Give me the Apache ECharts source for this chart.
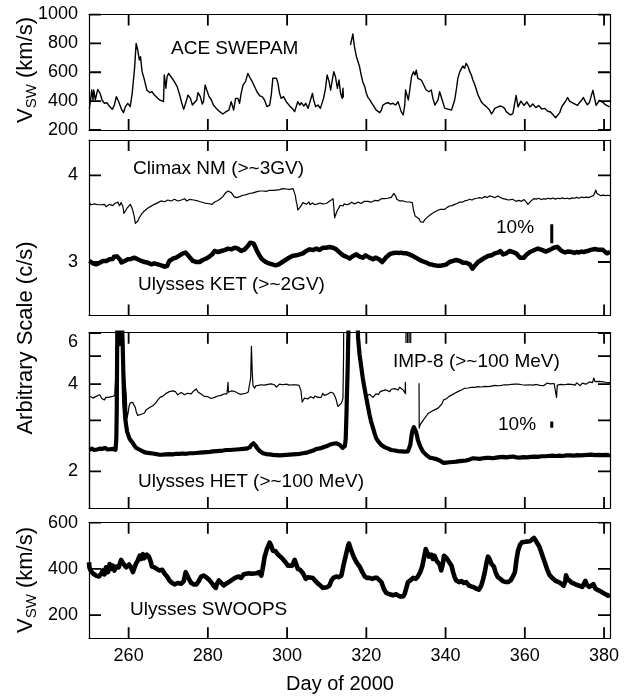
<!DOCTYPE html>
<html><head><meta charset="utf-8">
<script src="https://cdn.jsdelivr.net/npm/echarts@6/dist/echarts.min.js"></script>
<style>html,body{margin:0;padding:0;background:#fff}#c{width:625px;height:696px}</style>
</head><body><div id="c"></div>
<script>
// ---- tick values / labels ----
const dayTicks = [260, 280, 300, 320, 340, 360, 380];
const aceTicks = [200, 400, 600, 800, 1000];
const cosmicTicks = [3, 4];
const protonTicks = [2, 3, 4, 5, 6];
const protonLabels = [2, 4, 6];
const swoopsTicks = [200, 400, 600];

// ---- ACE SWEPAM solar wind speed (km/s), [day, value] ----
const aceSeg1 = [[250.1,350],[250.4,408],[250.7,477],[251.0,408],[251.2,477],[251.6,408],[252.2,481],[252.8,454],[253.3,408],[253.9,385],[254.5,389],[255.2,362],[255.9,343],[256.4,373],[256.9,431],[257.5,396],[258.1,350],[258.7,320],[259.2,362],[259.8,385],[260.4,362],[260.9,454],[261.5,627],[261.9,800],[262.3,754],[262.7,685],[263.0,708],[263.4,604],[264.0,546],[264.6,477],[265.3,459],[265.9,465],[266.5,442],[267.1,426],[267.8,408],[268.3,396],[268.8,396],[269.0,581],[269.4,489],[269.7,569],[270.1,592],[270.7,569],[271.3,546],[271.8,535],[272.2,504],[272.9,442],[273.4,389],[273.9,343],[274.5,396],[275.0,442],[275.6,419],[276.1,373],[276.6,366],[277.2,408],[277.5,459],[278.1,431],[278.6,380],[278.9,396],[279.3,512],[279.8,523],[280.3,431],[280.9,408],[281.4,373],[282.1,350],[283.0,327],[283.8,311],[284.6,327],[285.3,338],[285.9,396],[286.5,338],[287.0,419],[287.6,419],[288.0,385],[288.4,454],[288.9,512],[289.5,535],[290.1,592],[290.5,569],[291.2,535],[291.8,500],[292.4,465],[293.1,436],[293.7,431],[294.3,408],[294.9,362],[295.6,373],[296.0,442],[296.4,558],[296.8,569],[297.3,558],[297.7,523],[298.1,454],[298.5,419],[299.1,431],[299.8,396],[300.2,408],[300.8,362],[301.5,343],[301.9,327],[302.3,362],[302.7,396],[303.2,373],[303.6,389],[304.2,366],[304.7,385],[305.3,350],[305.9,408],[306.4,454],[306.7,408],[307.2,362],[307.8,373],[308.4,350],[308.9,338],[309.2,419],[309.7,489],[310.1,581],[310.6,535],[311.0,477],[311.4,546],[311.8,604],[312.2,569],[312.7,489],[313.1,546],[313.5,454],[313.9,419],[314.1,489],[314.2,425]];
const aceSeg2 = [[316.0,789],[316.6,865],[317.0,777],[317.5,708],[317.9,673],[318.3,638],[318.7,581],[319.1,535],[319.6,500],[320.0,454],[320.4,426],[320.8,412],[321.3,389],[321.7,373],[322.1,362],[322.5,338],[322.9,327],[323.4,320],[323.8,338],[324.2,373],[324.9,385],[325.5,389],[326.1,380],[326.7,385],[327.4,373],[328.0,396],[328.4,362],[328.8,327],[329.3,304],[329.7,373],[329.9,477],[330.3,481],[330.6,408],[330.9,465],[331.4,569],[331.9,604],[332.3,581],[332.6,615],[333.0,558],[333.5,569],[333.9,546],[334.3,535],[334.7,500],[335.1,477],[335.8,465],[336.4,477],[336.8,419],[337.3,373],[337.7,362],[338.1,408],[338.5,465],[338.9,454],[339.4,385],[339.8,350],[340.2,362],[340.9,343],[341.5,338],[341.9,350],[342.3,408],[342.7,477],[343.1,558],[343.6,604],[344.0,627],[344.4,643],[344.8,627],[345.2,662],[345.7,638],[346.1,604],[346.5,581],[346.9,546],[347.4,512],[347.8,477],[348.2,442],[348.6,419],[349.0,396],[349.5,380],[349.9,373],[350.3,362],[350.7,366],[351.1,338],[351.6,311],[352.0,327],[352.4,350],[352.8,362],[353.7,366],[354.3,362],[354.9,350],[355.3,327],[355.8,315],[356.4,304],[357.0,315],[357.5,327],[357.8,440],[358.3,360],[359.0,400],[359.8,370],[360.5,395],[361.3,360],[362.0,380],[362.8,355],[363.5,370],[364.3,345],[365.0,350],[365.8,330],[366.5,325],[367.3,300],[367.8,285],[368.3,290],[368.8,320],[369.3,360],[369.8,380],[370.3,400],[370.8,425],[371.3,400],[371.8,410],[372.3,385],[372.8,395],[373.3,370],[373.8,390],[374.3,405],[374.8,425],[375.3,395],[375.8,375],[376.3,390],[376.8,440],[377.2,475],[377.6,420],[378.0,370],[378.4,360],[378.8,405],[379.3,395],[379.8,390],[380.3,375],[380.8,365],[381.4,360]];

// ---- Climax NM (thin) and Ulysses KET (thick), arbitrary scale ----
const climaxNM = [[250.1,3.685],[250.5,3.66],[251.0,3.646],[251.4,3.67],[251.8,3.655],[252.2,3.66],[252.7,3.638],[253.1,3.66],[253.5,3.65],[253.9,3.665],[254.3,3.638],[254.8,3.66],[255.2,3.665],[255.6,3.645],[256.0,3.65],[256.5,3.675],[256.9,3.685],[257.3,3.69],[257.7,3.65],[258.1,3.685],[258.5,3.646],[258.7,3.60],[258.8,3.56],[259.1,3.57],[259.3,3.55],[259.6,3.62],[260.0,3.64],[260.4,3.665],[260.8,3.63],[261.1,3.588],[261.4,3.53],[261.7,3.446],[262.0,3.45],[262.3,3.47],[262.7,3.51],[263.0,3.53],[263.4,3.56],[263.9,3.585],[264.3,3.6],[264.8,3.62],[265.3,3.638],[265.9,3.65],[266.5,3.665],[267.0,3.655],[267.4,3.685],[267.8,3.68],[268.2,3.704],[268.6,3.69],[269.1,3.695],[269.5,3.71],[269.9,3.715],[270.3,3.7],[270.7,3.704],[271.1,3.725],[271.6,3.723],[272.0,3.71],[272.4,3.704],[272.9,3.72],[273.3,3.715],[273.7,3.735],[274.1,3.73],[274.7,3.704],[275.0,3.72],[275.4,3.723],[275.9,3.70],[276.4,3.715],[276.9,3.73],[277.5,3.704],[277.9,3.70],[278.3,3.692],[278.7,3.70],[279.2,3.68],[279.6,3.685],[280.0,3.675],[280.4,3.665],[281.1,3.665],[281.7,3.692],[282.3,3.704],[283.0,3.723],[283.4,3.735],[283.8,3.754],[284.1,3.765],[284.5,3.80],[285.1,3.819],[285.6,3.819],[285.9,3.80],[286.2,3.79],[286.6,3.754],[287.2,3.742],[287.6,3.75],[288.0,3.754],[288.4,3.76],[288.9,3.77],[289.3,3.765],[289.7,3.777],[290.1,3.78],[290.5,3.79],[291.0,3.785],[291.4,3.798],[291.8,3.79],[292.2,3.808],[292.6,3.80],[293.1,3.819],[293.5,3.81],[293.9,3.819],[294.3,3.825],[294.7,3.815],[295.1,3.83],[295.6,3.827],[296.0,3.835],[296.4,3.825],[296.9,3.838],[297.3,3.83],[297.7,3.845],[298.1,3.835],[298.5,3.84],[298.9,3.846],[299.4,3.838],[299.8,3.842],[300.2,3.846],[300.6,3.838],[301.0,3.85],[301.5,3.846],[301.9,3.858],[302.1,3.762],[302.3,3.70],[302.5,3.665],[302.7,3.60],[303.0,3.62],[303.2,3.627],[303.6,3.64],[304.0,3.685],[304.4,3.69],[304.8,3.665],[305.1,3.68],[305.5,3.692],[305.8,3.66],[306.1,3.665],[306.4,3.68],[306.7,3.685],[307.0,3.66],[307.4,3.646],[307.7,3.67],[308.0,3.665],[308.3,3.68],[308.6,3.692],[309.0,3.67],[309.5,3.665],[309.9,3.675],[310.3,3.685],[310.7,3.70],[311.2,3.715],[311.6,3.73],[311.8,3.627],[312.0,3.51],[312.2,3.53],[312.6,3.588],[312.9,3.61],[313.1,3.627],[313.4,3.654],[313.7,3.665],[314.1,3.646],[314.4,3.67],[314.8,3.685],[315.1,3.66],[315.4,3.638],[315.7,3.67],[316.0,3.665],[316.3,3.69],[316.6,3.685],[317.0,3.67],[317.5,3.665],[317.9,3.69],[318.3,3.685],[318.7,3.675],[319.1,3.692],[319.5,3.70],[320.0,3.685],[320.4,3.70],[320.8,3.704],[321.2,3.69],[321.7,3.692],[322.1,3.71],[322.5,3.715],[323.0,3.705],[323.4,3.723],[323.8,3.73],[324.2,3.742],[324.6,3.73],[325.0,3.742],[325.4,3.735],[325.9,3.754],[326.3,3.745],[326.6,3.762],[326.9,3.79],[327.2,3.775],[327.4,3.762],[327.7,3.723],[328.0,3.715],[328.4,3.704],[328.8,3.71],[329.3,3.704],[329.7,3.695],[330.1,3.692],[330.5,3.70],[330.9,3.692],[331.3,3.695],[331.6,3.685],[331.9,3.60],[332.3,3.531],[332.8,3.512],[333.3,3.50],[333.7,3.462],[334.1,3.446],[334.4,3.46],[334.7,3.485],[335.0,3.50],[335.3,3.512],[335.6,3.52],[336.0,3.539],[336.4,3.545],[336.7,3.562],[337.2,3.57],[337.7,3.588],[338.2,3.595],[338.7,3.608],[339.2,3.60],[339.8,3.608],[340.4,3.63],[341.0,3.646],[341.6,3.65],[342.3,3.665],[342.9,3.675],[343.6,3.692],[344.2,3.69],[344.8,3.704],[345.4,3.71],[346.1,3.723],[346.7,3.715],[347.3,3.73],[347.9,3.735],[348.6,3.742],[349.2,3.735],[349.9,3.754],[350.5,3.745],[351.1,3.762],[351.7,3.755],[352.4,3.742],[352.8,3.75],[353.2,3.762],[353.8,3.745],[354.5,3.73],[355.1,3.725],[355.8,3.715],[356.3,3.725],[356.9,3.723],[357.4,3.704],[357.8,3.70],[358.5,3.71],[359.2,3.70],[359.8,3.72],[360.4,3.69],[360.8,3.665],[361.2,3.68],[361.7,3.71],[362.3,3.73],[362.9,3.725],[363.5,3.735],[364.1,3.72],[364.7,3.73],[365.3,3.725],[365.9,3.735],[366.5,3.728],[367.1,3.738],[367.7,3.725],[368.3,3.735],[368.9,3.73],[369.5,3.74],[370.1,3.73],[370.7,3.735],[371.3,3.728],[371.9,3.74],[372.5,3.735],[373.1,3.745],[373.7,3.735],[374.3,3.75],[374.9,3.742],[375.5,3.748],[376.1,3.742],[376.7,3.755],[377.3,3.765],[377.7,3.80],[377.9,3.83],[378.2,3.79],[378.6,3.77],[379.2,3.765],[379.8,3.772],[380.4,3.765],[381.0,3.77],[381.5,3.765]];
const ulyssesKET = [[250.1,3.012],[250.5,2.99],[251.0,2.985],[251.4,2.975],[251.8,2.973],[252.2,2.985],[252.7,2.992],[253.1,2.985],[253.5,3.012],[254.0,3.0],[254.4,3.012],[254.8,3.02],[255.2,3.031],[255.6,3.03],[256.0,3.035],[256.3,3.06],[256.7,3.077],[257.1,3.065],[257.5,3.05],[257.9,3.023],[258.2,2.995],[258.4,2.985],[258.7,3.0],[259.0,3.012],[259.4,3.02],[259.8,3.031],[260.2,3.025],[260.6,3.035],[261.0,3.04],[261.5,3.05],[261.9,3.04],[262.3,3.031],[262.8,3.02],[263.2,3.012],[263.6,3.005],[264.0,3.0],[264.5,2.995],[264.9,2.992],[265.3,2.98],[265.7,2.973],[266.1,2.98],[266.5,2.985],[267.0,2.975],[267.4,2.973],[267.8,2.968],[268.2,2.962],[268.6,2.955],[269.1,2.946],[269.4,2.95],[269.7,2.954],[270.0,2.985],[270.3,3.012],[270.7,3.02],[271.2,3.04],[271.6,3.045],[272.0,3.05],[272.4,3.062],[272.9,3.077],[273.3,3.09],[273.7,3.1],[274.1,3.105],[274.4,3.108],[274.7,3.095],[275.0,3.077],[275.3,3.06],[275.5,3.05],[275.9,3.03],[276.2,3.012],[276.6,3.005],[277.1,3.0],[277.5,2.995],[277.9,3.0],[278.3,3.012],[278.7,3.023],[279.2,3.03],[279.6,3.04],[280.0,3.05],[280.4,3.062],[280.8,3.075],[281.1,3.088],[281.4,3.11],[281.7,3.127],[282.1,3.12],[282.5,3.115],[283.0,3.122],[283.4,3.127],[283.8,3.13],[284.2,3.138],[284.6,3.145],[285.1,3.154],[285.5,3.15],[285.9,3.146],[286.3,3.155],[286.8,3.165],[287.2,3.16],[287.6,3.154],[288.0,3.14],[288.4,3.127],[288.9,3.135],[289.3,3.146],[289.7,3.165],[290.1,3.185],[290.4,3.205],[290.7,3.223],[291.0,3.23],[291.2,3.231],[291.5,3.215],[291.8,3.192],[292.1,3.16],[292.4,3.127],[292.8,3.095],[293.1,3.069],[293.4,3.05],[293.7,3.031],[294.2,3.015],[294.6,3.0],[295.0,2.99],[295.4,2.985],[295.9,2.978],[296.3,2.973],[296.7,2.965],[297.1,2.962],[297.5,2.97],[297.9,2.973],[298.4,2.985],[298.8,3.0],[299.2,3.01],[299.6,3.023],[300.0,3.035],[300.5,3.05],[300.9,3.06],[301.3,3.069],[301.7,3.07],[302.3,3.077],[302.7,3.085],[303.2,3.088],[303.6,3.095],[304.0,3.1],[304.4,3.11],[304.8,3.127],[305.2,3.13],[305.7,3.146],[306.1,3.14],[306.5,3.138],[307.0,3.145],[307.4,3.154],[307.8,3.148],[308.2,3.138],[308.6,3.15],[309.0,3.165],[309.5,3.16],[309.9,3.165],[310.3,3.17],[310.7,3.173],[311.2,3.165],[311.6,3.165],[312.0,3.158],[312.4,3.146],[312.8,3.13],[313.3,3.108],[313.7,3.095],[314.1,3.077],[314.5,3.07],[314.9,3.062],[315.3,3.055],[315.8,3.04],[316.2,3.05],[316.6,3.069],[317.0,3.075],[317.5,3.088],[317.9,3.075],[318.3,3.062],[318.7,3.058],[319.1,3.05],[319.5,3.065],[319.8,3.077],[320.3,3.06],[320.8,3.05],[321.2,3.04],[321.7,3.031],[322.0,3.045],[322.3,3.05],[322.7,3.04],[323.2,3.031],[323.6,3.015],[324.0,3.0],[324.3,3.012],[324.6,3.031],[325.0,3.055],[325.5,3.077],[325.9,3.09],[326.3,3.1],[326.9,3.105],[327.6,3.108],[328.2,3.105],[328.8,3.108],[329.4,3.1],[330.1,3.1],[330.7,3.09],[331.4,3.077],[331.9,3.065],[332.5,3.05],[333.0,3.04],[333.5,3.023],[334.1,3.01],[334.7,3.0],[335.3,2.99],[336.0,2.973],[336.6,2.97],[337.2,2.962],[337.8,2.958],[338.3,2.954],[338.8,2.958],[339.4,2.962],[339.8,2.968],[340.2,2.973],[340.6,2.985],[341.0,3.0],[341.5,3.005],[341.9,3.012],[342.3,3.02],[342.7,3.023],[343.2,3.015],[343.6,3.012],[344.0,3.0],[344.4,2.992],[344.8,2.995],[345.2,2.992],[345.6,2.985],[346.1,2.973],[346.5,2.95],[346.8,2.923],[347.1,2.935],[347.3,2.954],[347.7,2.975],[348.2,3.0],[348.6,3.01],[349.0,3.023],[349.4,3.035],[349.9,3.05],[350.3,3.055],[350.7,3.069],[351.2,3.065],[351.6,3.077],[352.0,3.085],[352.4,3.1],[352.8,3.105],[353.2,3.108],[353.5,3.12],[353.8,3.127],[354.1,3.115],[354.5,3.088],[354.9,3.095],[355.3,3.1],[355.8,3.115],[356.2,3.127],[356.6,3.12],[357.0,3.115],[357.4,3.127],[357.8,3.1],[358.3,3.075],[358.8,3.05],[359.3,3.035],[359.8,3.05],[360.3,3.08],[360.8,3.1],[361.3,3.115],[361.8,3.12],[362.3,3.135],[362.8,3.14],[363.3,3.155],[363.8,3.15],[364.3,3.14],[364.8,3.13],[365.3,3.12],[365.8,3.135],[366.3,3.14],[366.8,3.155],[367.3,3.165],[367.8,3.18],[368.2,3.175],[368.7,3.155],[369.2,3.13],[369.7,3.115],[370.2,3.11],[370.8,3.12],[371.3,3.11],[371.9,3.115],[372.5,3.105],[373.1,3.115],[373.7,3.11],[374.3,3.12],[374.9,3.115],[375.5,3.125],[376.1,3.13],[376.7,3.14],[377.2,3.155],[377.7,3.15],[378.2,3.145],[378.7,3.14],[379.2,3.135],[379.7,3.14],[380.2,3.125],[380.7,3.1],[381.1,3.12],[381.5,3.115]];
const climaxScaleBar = [[366.8,3.216],[366.8,3.435]];

// ---- IMP-8 (thin) and Ulysses HET (thick), log scale ----
const imp8Seg1 = [[250.3,3.63],[250.6,3.6],[251.0,3.58],[251.4,3.62],[251.8,3.63],[252.2,3.65],[252.7,3.675],[253.0,3.62],[253.3,3.56],[253.6,3.545],[253.9,3.53],[254.2,3.6],[254.5,3.63],[254.9,3.6],[255.3,3.58],[255.7,3.62],[256.2,3.63],[256.5,3.65],[256.7,3.675],[256.95,4.8],[257.1,9],[258.3,9],[258.6,5.2],[259.0,4.2],[259.4,3.675],[259.6,3.05],[259.9,3.2],[260.1,3.35],[260.4,3.45],[260.6,3.47],[261.0,3.46],[261.5,3.42],[261.7,3.32],[261.9,3.22],[262.3,3.12],[262.8,3.09],[263.2,3.15],[263.6,3.2],[264.0,3.18],[264.4,3.26],[264.8,3.24],[265.3,3.32],[265.7,3.3],[266.1,3.37],[266.5,3.35],[266.8,3.44],[267.1,3.42],[267.4,3.53],[267.7,3.5],[268.0,3.61],[268.3,3.58],[268.6,3.63],[269.0,3.6],[269.5,3.72],[269.9,3.68],[270.3,3.77],[270.7,3.72],[271.2,3.79],[271.5,3.74],[271.8,3.77],[272.1,3.72],[272.4,3.675],[272.8,3.72],[273.3,3.74],[273.7,3.7],[274.1,3.675],[274.5,3.72],[274.9,3.72],[275.3,3.69],[275.8,3.7],[276.1,3.74],[276.4,3.79],[276.7,3.75],[277.1,3.85],[277.5,3.76],[277.9,3.72],[278.3,3.7],[278.7,3.675],[279.1,3.63],[279.6,3.58],[280.0,3.62],[280.4,3.63],[280.8,3.57],[281.3,3.53],[281.7,3.6],[282.1,3.58],[282.5,3.64],[282.9,3.63],[283.3,3.66],[283.8,3.675],[284.1,3.7],[284.5,3.72],[284.8,3.7],[285.0,3.9],[285.1,4.06],[285.2,3.75],[285.5,3.77],[285.9,3.79],[286.3,3.82],[286.7,3.78],[287.2,3.77],[287.5,3.73],[287.8,3.7],[288.1,3.69],[288.4,3.675],[288.8,3.7],[289.3,3.675],[289.6,3.72],[289.9,3.74],[290.2,3.76],[290.5,3.82],[290.8,4.2],[291.0,5.4],[291.2,4.4],[291.4,3.95],[291.8,3.875],[292.1,3.95],[292.4,4.0],[292.7,3.96],[293.1,3.93],[293.5,3.98],[293.9,4.0],[294.3,3.97],[294.7,4.03],[295.1,3.99],[295.6,3.95],[296.0,4.01],[296.4,4.06],[296.8,3.98],[297.3,3.91],[297.7,3.97],[298.1,4.0],[298.5,3.97],[298.9,3.98],[299.3,4.02],[299.8,4.0],[300.2,3.96],[300.6,3.97],[301.0,4.0],[301.5,3.98],[301.9,4.0],[302.3,3.98],[302.7,3.93],[303.0,3.96],[303.3,3.97],[303.5,3.8],[303.6,3.675],[303.8,3.47],[304.1,3.52],[304.4,3.58],[304.8,3.55],[305.3,3.56],[305.6,3.52],[305.9,3.62],[306.3,3.58],[306.7,3.58],[307.0,3.64],[307.4,3.675],[307.8,3.6],[308.2,3.63],[308.6,3.6],[309.0,3.72],[309.4,3.66],[309.9,3.675],[310.3,3.7],[310.7,3.72],[311.0,3.75],[311.4,3.77],[311.7,3.72],[312.0,3.74],[312.2,3.6],[312.4,3.53],[312.8,3.35],[313.3,3.32],[313.7,3.44],[313.9,3.5],[314.1,3.58],[314.25,5],[314.35,9],[317.8,9],[318.3,5.0],[318.8,4.4],[319.3,3.95],[319.8,3.72],[320.1,3.64],[320.4,3.63],[320.8,3.69],[321.3,3.675],[321.7,3.6],[322.1,3.63],[322.4,3.7],[322.7,3.73],[323.1,3.69],[323.5,3.77],[323.9,3.76],[324.2,3.8],[324.6,3.76],[325.0,3.82],[325.4,3.79],[325.9,3.77],[326.3,3.84],[326.7,3.82],[327.1,3.86],[327.6,3.85],[328.0,3.82],[328.4,3.9],[328.8,3.86],[329.3,3.82],[329.6,3.77],[329.8,3.72],[329.85,4.06],[329.9,3.69]];
const imp8GapSpikes = [[330.0,5.55],[330.0,9],[330.2,'-'],[330.4,5.55],[330.4,9],[330.6,'-'],[330.8,5.55],[330.8,9],[331.0,'-'],[331.2,5.55],[331.2,9]];
const imp8Seg2 = [[333.3,4.03],[333.35,2.82],[333.6,2.9],[333.8,2.86],[334.1,2.97],[334.4,3.0],[334.7,3.05],[335.1,3.1],[335.6,3.17],[336.0,3.2],[336.4,3.22],[336.8,3.24],[337.2,3.26],[337.7,3.28],[338.1,3.306],[338.5,3.35],[338.9,3.395],[339.2,3.45],[339.5,3.53],[339.8,3.54],[340.2,3.56],[340.6,3.6],[340.9,3.63],[341.3,3.66],[341.7,3.68],[342.0,3.7],[342.3,3.72],[342.7,3.76],[343.1,3.77],[343.5,3.8],[344.0,3.82],[344.4,3.84],[344.8,3.87],[345.2,3.85],[345.7,3.88],[346.1,3.86],[346.5,3.9],[346.9,3.87],[347.3,3.9],[347.8,3.88],[348.2,3.92],[348.6,3.89],[349.0,3.91],[349.4,3.9],[349.9,3.93],[350.3,3.9],[350.7,3.92],[351.1,3.9],[351.6,3.94],[352.0,3.92],[352.4,3.96],[352.9,3.93],[353.3,3.95],[353.7,3.93],[354.1,3.96],[354.5,3.97],[354.9,3.98],[355.4,3.95],[355.8,3.98],[356.2,3.96],[356.7,3.99],[357.1,3.97],[357.5,4.0],[357.9,3.96],[358.4,4.0],[358.8,3.95],[359.3,3.98],[359.7,4.02],[360.2,3.97],[360.6,3.93],[361.1,3.98],[361.5,4.02],[362.0,3.97],[362.4,3.94],[362.9,3.99],[363.3,4.01],[363.8,3.96],[364.2,3.99],[364.7,3.95],[365.1,4.0],[365.6,4.03],[366.0,3.98],[366.5,4.01],[366.9,3.97],[367.4,4.02],[367.8,3.98],[368.0,3.6],[368.2,3.97],[368.6,4.03],[369.1,3.99],[369.5,4.02],[370.0,3.98],[370.4,4.04],[370.9,4.0],[371.3,4.05],[371.8,3.99],[372.2,4.02],[372.7,3.97],[373.1,4.04],[373.6,4.0],[374.0,3.95],[374.5,4.03],[374.9,4.06],[375.4,4.0],[375.8,4.04],[376.3,4.07],[376.7,4.02],[377.1,4.05],[377.4,4.2],[377.7,4.08],[378.1,4.04],[378.6,4.09],[379.0,4.05],[379.5,4.08],[379.9,4.03],[380.4,4.06],[380.8,4.02],[381.2,4.05],[381.5,4.04]];
const ulyssesHET = [[250.1,2.375],[250.4,2.36],[250.7,2.395],[251.0,2.407],[251.3,2.37],[251.6,2.39],[252.0,2.38],[252.3,2.41],[252.7,2.395],[253.0,2.37],[253.3,2.39],[253.7,2.375],[254.0,2.41],[254.3,2.395],[254.7,2.38],[255.0,2.4],[255.3,2.385],[255.7,2.405],[256.0,2.39],[256.3,2.4],[256.7,2.375],[256.9,2.6],[257.0,3.2],[257.15,6.5],[257.3,9],[257.6,9],[257.75,5.5],[257.9,7],[258.0,9],[258.3,9],[258.5,5.5],[258.7,4.2],[258.9,3.4],[259.2,3.0],[259.6,2.75],[260.2,2.6],[260.6,2.55],[261.1,2.5],[261.5,2.45],[261.9,2.41],[262.3,2.4],[262.8,2.375],[263.2,2.36],[263.6,2.343],[264.0,2.35],[264.4,2.32],[264.8,2.34],[265.3,2.313],[265.7,2.33],[266.1,2.305],[266.6,2.32],[267.0,2.295],[267.4,2.31],[267.8,2.282],[268.2,2.3],[268.6,2.285],[269.0,2.31],[269.4,2.29],[269.8,2.305],[270.3,2.295],[270.7,2.31],[271.1,2.29],[271.6,2.305],[272.0,2.3],[272.4,2.32],[272.8,2.3],[273.3,2.315],[273.7,2.305],[274.1,2.32],[274.5,2.3],[275.0,2.315],[275.4,2.31],[275.8,2.33],[276.3,2.31],[276.7,2.325],[277.1,2.315],[277.5,2.33],[278.0,2.32],[278.4,2.335],[278.8,2.325],[279.2,2.34],[279.6,2.33],[280.1,2.345],[280.5,2.335],[280.9,2.35],[281.3,2.345],[281.7,2.36],[282.2,2.35],[282.6,2.365],[283.0,2.355],[283.4,2.37],[283.8,2.36],[284.3,2.375],[284.7,2.37],[285.1,2.38],[285.5,2.37],[285.9,2.385],[286.4,2.375],[286.8,2.39],[287.2,2.38],[287.6,2.395],[288.0,2.385],[288.5,2.4],[288.9,2.39],[289.3,2.405],[289.7,2.395],[290.1,2.41],[290.6,2.42],[290.9,2.46],[291.2,2.49],[291.5,2.5],[291.8,2.48],[292.1,2.45],[292.4,2.41],[292.7,2.38],[293.1,2.35],[293.5,2.33],[293.9,2.31],[294.3,2.32],[294.7,2.295],[295.2,2.31],[295.6,2.29],[296.0,2.3],[296.4,2.28],[296.9,2.295],[297.3,2.275],[297.7,2.29],[298.1,2.27],[298.6,2.285],[299.0,2.275],[299.4,2.29],[299.8,2.28],[300.3,2.295],[300.7,2.285],[301.1,2.3],[301.5,2.29],[301.9,2.305],[302.3,2.295],[302.8,2.31],[303.2,2.3],[303.6,2.32],[304.0,2.31],[304.5,2.33],[304.9,2.32],[305.3,2.335],[305.7,2.34],[306.1,2.35],[306.6,2.36],[307.0,2.37],[307.4,2.39],[307.8,2.385],[308.2,2.4],[308.6,2.41],[309.0,2.42],[309.5,2.43],[309.9,2.44],[310.3,2.455],[310.7,2.47],[311.1,2.475],[311.6,2.49],[312.0,2.485],[312.4,2.5],[312.8,2.49],[313.3,2.47],[313.7,2.44],[314.0,2.41],[314.3,2.375],[314.6,2.45],[314.8,2.6],[315.0,3.2],[315.1,3.67],[315.3,4.6],[315.4,5.5],[315.6,7],[315.8,9],[317.6,9],[317.9,5.8],[318.1,5.4],[318.3,5.05],[318.7,4.6],[319.1,4.2],[319.5,3.9],[320.0,3.58],[320.4,3.35],[320.8,3.14],[321.2,2.97],[321.7,2.82],[322.1,2.7],[322.5,2.6],[323.0,2.54],[323.4,2.5],[323.8,2.465],[324.2,2.44],[324.6,2.425],[325.0,2.42],[325.5,2.395],[325.9,2.375],[326.3,2.37],[326.8,2.355],[327.2,2.36],[327.6,2.343],[328.0,2.35],[328.5,2.335],[328.9,2.345],[329.3,2.33],[329.7,2.34],[330.1,2.335],[330.5,2.345],[330.9,2.343],[331.1,2.47],[331.4,2.65],[331.6,2.75],[332.0,2.84],[332.3,2.8],[332.5,2.75],[332.8,2.65],[333.0,2.57],[333.3,2.5],[333.6,2.44],[334.0,2.38],[334.3,2.34],[334.7,2.31],[335.1,2.28],[335.5,2.25],[336.0,2.23],[336.4,2.225],[336.8,2.22],[337.2,2.21],[337.7,2.205],[338.1,2.19],[338.5,2.18],[339.0,2.16],[339.4,2.14],[339.8,2.15],[340.2,2.145],[340.6,2.16],[341.0,2.15],[341.5,2.165],[341.9,2.155],[342.3,2.17],[342.7,2.16],[343.2,2.175],[343.6,2.17],[344.0,2.18],[344.4,2.175],[344.8,2.19],[345.2,2.18],[345.7,2.195],[346.1,2.2],[346.5,2.21],[346.9,2.22],[347.3,2.205],[347.7,2.215],[348.2,2.2],[348.6,2.21],[349.0,2.205],[349.4,2.22],[349.9,2.21],[350.3,2.225],[350.7,2.215],[351.1,2.225],[351.6,2.21],[352.0,2.22],[352.4,2.21],[352.8,2.23],[353.3,2.225],[353.7,2.24],[354.1,2.23],[354.5,2.245],[354.9,2.225],[355.3,2.235],[355.8,2.23],[356.2,2.245],[356.6,2.24],[357.0,2.25],[357.5,2.25],[357.9,2.235],[358.4,2.25],[358.8,2.23],[359.3,2.255],[359.7,2.24],[360.2,2.26],[360.6,2.235],[361.1,2.255],[361.5,2.245],[362.0,2.265],[362.4,2.25],[362.9,2.26],[363.3,2.245],[363.8,2.265],[364.2,2.255],[364.7,2.27],[365.1,2.255],[365.6,2.27],[366.0,2.26],[366.5,2.28],[366.9,2.265],[367.4,2.275],[367.8,2.26],[368.3,2.28],[368.7,2.265],[369.2,2.275],[369.6,2.26],[370.1,2.28],[370.5,2.27],[371.0,2.285],[371.4,2.27],[371.9,2.28],[372.3,2.265],[372.8,2.285],[373.2,2.275],[373.7,2.29],[374.1,2.27],[374.6,2.285],[375.0,2.275],[375.5,2.29],[375.9,2.28],[376.4,2.3],[376.8,2.285],[377.3,2.3],[377.7,2.275],[378.2,2.29],[378.6,2.28],[379.1,2.295],[379.5,2.275],[380.0,2.29],[380.4,2.28],[380.9,2.29],[381.3,2.275],[381.5,2.285]];
const impScaleBar = [[366.8,2.83],[366.8,2.97]];

// ---- Ulysses SWOOPS solar wind speed (km/s) ----
const ulyssesSWOOPS = [[250.0,429],[250.1,407],[250.5,390],[251.1,379],[251.8,371],[252.5,367],[253.1,379],[253.5,393],[253.9,376],[254.3,407],[254.8,386],[255.2,421],[255.6,400],[256.0,414],[256.4,393],[256.9,410],[257.5,407],[258.1,439],[258.7,421],[259.4,407],[260.1,419],[260.6,407],[261.1,386],[261.5,407],[261.9,424],[262.3,436],[262.8,457],[263.2,443],[263.6,464],[264.0,447],[264.6,462],[265.1,453],[265.5,436],[265.9,410],[266.5,407],[267.1,400],[267.8,393],[268.5,396],[269.1,379],[269.7,367],[270.3,350],[271.0,339],[271.6,333],[272.4,339],[273.3,336],[273.9,347],[274.4,386],[274.7,390],[275.2,357],[275.8,339],[276.4,333],[277.1,333],[277.7,347],[278.3,367],[278.9,371],[279.6,364],[280.3,353],[280.8,343],[281.4,328],[282.0,318],[282.3,336],[282.8,350],[283.4,339],[284.0,328],[284.6,336],[285.3,343],[285.9,350],[286.5,357],[287.2,364],[287.8,367],[288.4,361],[289.0,376],[289.7,379],[290.4,381],[291.0,379],[291.5,386],[292.2,381],[292.9,386],[293.5,371],[293.9,407],[294.3,450],[294.9,486],[295.6,514],[296.0,500],[296.4,479],[297.1,476],[297.7,462],[298.3,453],[298.9,443],[299.6,429],[300.2,414],[300.6,410],[301.3,414],[301.9,439],[302.3,421],[302.7,400],[303.3,396],[304.0,381],[304.7,357],[305.3,364],[305.8,367],[306.5,361],[307.2,347],[307.8,336],[308.4,328],[309.0,318],[309.5,310],[310.1,321],[310.7,328],[311.2,350],[311.7,361],[312.4,367],[313.1,364],[313.7,371],[314.3,421],[314.8,457],[315.4,500],[315.6,510],[316.2,479],[316.8,453],[317.5,429],[317.9,436],[318.3,410],[319.0,386],[319.6,367],[320.2,361],[320.8,361],[321.5,357],[322.1,361],[322.7,361],[323.2,361],[323.8,343],[324.4,314],[325.0,296],[325.9,290],[326.7,286],[327.6,290],[328.4,281],[329.3,281],[329.7,293],[330.1,318],[330.5,343],[331.1,350],[331.8,361],[332.5,357],[333.0,367],[333.6,386],[334.1,410],[334.5,443],[335.0,486],[335.3,479],[335.8,453],[336.4,462],[336.8,443],[337.2,457],[337.7,436],[338.1,443],[338.5,419],[338.9,393],[339.3,421],[339.6,457],[340.0,453],[340.4,443],[340.9,436],[341.5,414],[341.9,386],[342.3,364],[342.7,350],[343.4,343],[344.0,347],[344.6,339],[345.2,343],[345.9,328],[346.5,324],[347.1,321],[347.8,314],[348.4,310],[349.0,328],[349.5,357],[349.9,386],[350.3,424],[350.7,453],[351.1,443],[351.6,421],[352.2,410],[352.6,386],[353.2,364],[353.8,357],[354.5,347],[355.2,343],[355.8,343],[356.4,350],[356.9,364],[357.5,386],[357.9,440],[358.3,480],[358.8,505],[359.3,515],[359.8,512],[360.3,518],[360.8,515],[361.3,520],[361.8,522],[362.3,534],[362.7,525],[363.2,510],[363.7,495],[364.2,470],[364.7,445],[365.2,420],[365.7,395],[366.2,375],[366.8,363],[367.3,355],[367.8,348],[368.3,345],[368.8,341],[369.3,335],[369.8,327],[370.2,345],[370.4,372],[370.7,358],[371.2,350],[371.8,341],[372.5,336],[373.2,330],[373.8,327],[374.5,322],[375.0,330],[375.3,348],[375.7,330],[376.3,322],[376.8,318],[377.3,334],[377.8,315],[378.5,308],[379.2,302],[379.8,296],[380.4,290],[381.0,284],[381.5,288]];

// ---- layout / style ----
const FONT = "'Liberation Sans', Arial, Helvetica, sans-serif";
const BLACK = '#000';
const DAY_MIN = 250, DAY_MAX = 381.5;
const gridBoxes = [
  {left: 89, width: 521, top: 14.5, height: 115.5},
  {left: 89, width: 521, top: 140, height: 175.5},
  {left: 89, width: 521, top: 332.7, height: 175.3},
  {left: 89, width: 521, top: 522.7, height: 115.5}
];
const TICK_X = 11, TICK_Y = 12;
const yRanges = [[200, 1000], [2.383, 4.407], [1.495, 6.02], [100, 600]];
const yIsLog = [false, false, true, false];
const yTickSets = [aceTicks, cosmicTicks, protonTicks, swoopsTicks];

const grid = gridBoxes.map(b => Object.assign({outerBoundsMode: 'none', containLabel: false, show: false}, b));

const lineAx = {show: true, onZero: false, lineStyle: {color: BLACK, width: 1.2}};
const labStyle = {color: BLACK, fontSize: 18, fontFamily: FONT};
const plain = v => String(v);

const xAxis = [];
for (let g = 0; g < 4; g++) {
  for (const pos of ['bottom', 'top']) {
    xAxis.push({
      type: 'value', gridIndex: g, position: pos, min: DAY_MIN, max: DAY_MAX,
      axisLine: lineAx, axisTick: {show: false},
      axisLabel: Object.assign({show: g === 3 && pos === 'bottom', customValues: dayTicks, margin: 9, formatter: plain}, labStyle),
      splitLine: {show: false}
    });
  }
}

function yAx(g, pos, min, max, labels, extra) {
  return Object.assign({
    type: 'value', gridIndex: g, position: pos, min: min, max: max,
    axisLine: lineAx, axisTick: {show: false},
    axisLabel: Object.assign({show: !!labels, customValues: labels || [], margin: 11, formatter: plain}, labStyle),
    splitLine: {show: false}
  }, extra || {});
}
const L = v => Math.log10(v);
const yAxis = [
  yAx(0, 'left', 200, 1000, aceTicks),                 // 0
  yAx(1, 'left', 2.383, 4.407, cosmicTicks),           // 1
  { type: 'log', logBase: 10, gridIndex: 2, position: 'left', min: 1.495, max: 6.02,   // 2 (data axis, log)
    axisLine: lineAx, axisTick: {show: false}, axisLabel: {show: false}, splitLine: {show: false}, minorTick: {show: false} },
  yAx(3, 'left', 100, 600, swoopsTicks),               // 3
  yAx(0, 'right', 200, 1000, null),                    // 4
  yAx(1, 'right', 2.383, 4.407, null),                 // 5
  yAx(2, 'right', L(1.495), L(6.02), null),            // 6
  yAx(3, 'right', 100, 600, null),                     // 7
  yAx(2, 'left', L(1.495), L(6.02), protonLabels.map(L), // 8 label overlay at log positions
      {axisLabel: Object.assign({show: true, customValues: protonLabels.map(L), margin: 11,
        verticalAlignMaxLabel: 'top',
        formatter: v => String(Math.round(Math.pow(10, v)))}, labStyle)})
];

function line(name, data, g, yIdx, width) {
  return {
    name: name, type: 'line', data: data, xAxisIndex: g * 2, yAxisIndex: yIdx,
    showSymbol: false, symbol: 'none', clip: true, connectNulls: false, silent: true,
    lineStyle: {color: BLACK, width: width, join: 'round', cap: 'butt'},
    itemStyle: {color: BLACK}, animation: false
  };
}

// inward tick marks drawn as short segments through each panel's own scales
function tickSeries(g) {
  const box = gridBoxes[g], yr = yRanges[g];
  const dx = TICK_Y / box.width * (DAY_MAX - DAY_MIN);
  const fy = TICK_X / box.height;
  const yIn = (from, dir) => yIsLog[g]
    ? from * Math.pow(yr[1] / yr[0], dir * fy)
    : from + dir * fy * (yr[1] - yr[0]);
  const segs = [];
  dayTicks.forEach(d => {
    segs.push([d, yr[0]], [d, yIn(yr[0], 1)], [d + 0.01, '-']);
    segs.push([d, yr[1]], [d, yIn(yr[1], -1)], [d + 0.01, '-']);
  });
  yTickSets[g].forEach(v => {
    segs.push([DAY_MIN, v], [DAY_MIN + dx, v], [DAY_MIN + dx, '-']);
    segs.push([DAY_MAX, v], [DAY_MAX - dx, v], [DAY_MAX - dx, '-']);
  });
  const s = line('ticks ' + g, segs, g, g, 1.8);
  s.z = 4;
  return s;
}

const series = [
  line('ACE SWEPAM a', aceSeg1, 0, 0, 1.4),
  line('ACE SWEPAM b', aceSeg2, 0, 0, 1.4),
  line('Ulysses KET', ulyssesKET, 1, 1, 4.5),
  line('Climax NM', climaxNM, 1, 1, 1.2),
  line('10% bar 1', climaxScaleBar, 1, 1, 3),
  line('Ulysses HET', ulyssesHET, 2, 2, 4.2),
  line('IMP-8 a', imp8Seg1, 2, 2, 1.2),
  line('IMP-8 gap', imp8GapSpikes, 2, 2, 1.2),
  line('IMP-8 b', imp8Seg2, 2, 2, 1.2),
  line('10% bar 2', impScaleBar, 2, 2, 3),
  line('Ulysses SWOOPS', ulyssesSWOOPS, 3, 3, 4.6),
  tickSeries(0), tickSeries(1), tickSeries(2), tickSeries(3)
];

function txt(text, x, y, size) {
  return {type: 'text', x: x, y: y, silent: true,
    style: {text: text, fill: BLACK, fontSize: size, fontFamily: FONT, align: 'left', verticalAlign: 'middle'}};
}
function vsw(x, y) {
  return {type: 'text', x: x, y: y, rotation: Math.PI / 2, silent: true,
    style: {text: '{v|V}{s|SW}{n| (km/s)}', fill: BLACK, fontFamily: FONT, align: 'center', verticalAlign: 'middle',
      rich: {
        v: {fontSize: 22, fontFamily: FONT, fill: BLACK},
        s: {fontSize: 15, fontFamily: FONT, fill: BLACK, padding: [11, 0, 0, 0]},
        n: {fontSize: 22, fontFamily: FONT, fill: BLACK}
      }}};
}

const graphic = [
  txt('ACE SWEPAM', 171, 49, 19),
  txt('Climax NM (>~3GV)', 133, 169, 19),
  txt('Ulysses KET (>~2GV)', 138, 285, 19),
  txt('10%', 496, 228, 19),
  txt('IMP-8 (>~100 MeV)', 393, 362, 19),
  txt('Ulysses HET (>~100 MeV)', 138, 482, 19),
  txt('10%', 498, 425, 19),
  txt('Ulysses SWOOPS', 130, 610, 19),
  vsw(26, 70),
  vsw(26, 580),
  {type: 'text', x: 26, y: 338, rotation: Math.PI / 2, silent: true,
    style: {text: 'Arbitrary Scale (c/s)', fill: BLACK, fontSize: 22, fontFamily: FONT, align: 'center', verticalAlign: 'middle'}},
  {type: 'text', x: 340, y: 684, silent: true,
    style: {text: 'Day of 2000', fill: BLACK, fontSize: 20, fontFamily: FONT, align: 'center', verticalAlign: 'middle'}}
];

const chart = echarts.init(document.getElementById('c'), null, {renderer: 'canvas'});
chart.setOption({
  animation: false,
  backgroundColor: '#fff',
  textStyle: {fontFamily: FONT, color: BLACK},
  grid: grid, xAxis: xAxis, yAxis: yAxis, series: series, graphic: graphic
});
</script>
</body></html>
